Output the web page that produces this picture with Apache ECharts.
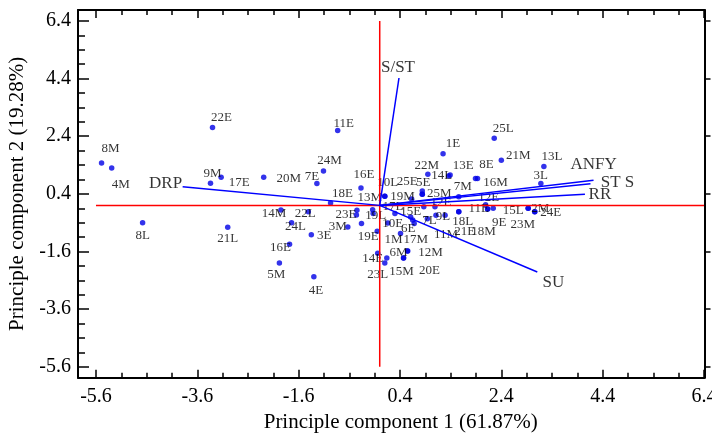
<!DOCTYPE html>
<html>
<head>
<meta charset="utf-8">
<script src="https://cdn.jsdelivr.net/npm/echarts@6/dist/echarts.min.js"></script>
<style>
  html, body { margin: 0; padding: 0; background: #fff; overflow: hidden; }
  #chart { width: 712px; height: 434px; }
</style>
</head>
<body>
<div id="chart"></div>
<script>
// PCA scores of the samples (empty name = dot without a visible label)
var sampleNames = ['8M','4M','22E','9M','17E','8L','21L','20M','11E','24M',
  '7E','16E','18E','13M','10L','19M','25E','5E','25M','22M',
  '1E','13E','14L','8E','16M','7M','21M','25L','13L','3L',
  '12E','11E','9E','15L','2M','24E','23M','18L','21E','18M',
  '11M','9L','7L','12E','','17L','10E','15E','6E','17M',
  '1M','19E','19L','','23E','','3M','','14M','22L',
  '24L','3E','16E','5M','4E','14E','','23L','6M','12M',
  '15M','20E'];
var pc1Scores = [-5.49,-5.29,-3.30,-3.34,-3.13,-4.68,-3.00,-2.29,-0.83,-1.11,
  -1.24,-0.37,-0.97,0.10,0.10,0.63,0.84,0.84,0.84,0.95,
  1.25,1.39,1.36,1.89,1.93,1.56,2.40,2.26,3.24,3.18,
  2.09,2.13,2.24,2.93,2.93,3.06,3.06,1.56,1.56,2.13,
  1.29,1.11,0.94,1.09,0.87,0.30,0.16,0.61,0.68,0.65,
  0.41,-0.05,-0.14,-0.13,-0.45,-0.46,-0.63,-0.36,-1.95,-1.41,
  -1.74,-1.35,-1.78,-1.98,-1.30,-0.04,0.14,0.10,0.55,0.55,
  0.47,0.47];
var pc2Scores = [1.47,1.30,2.70,0.77,0.98,-0.60,-0.76,0.98,2.60,1.19,
  0.76,0.60,0.08,0.32,0.32,0.22,0.50,0.39,0.39,1.08,
  1.79,1.05,1.02,0.93,0.93,0.30,1.57,2.33,1.35,0.76,
  0.02,-0.13,-0.10,-0.10,-0.10,-0.22,-0.22,-0.22,-0.22,-0.13,
  -0.34,-0.34,-0.46,-0.05,-0.05,-0.28,-0.61,-0.40,-0.63,-0.51,
  -0.98,-0.90,-0.15,-0.28,-0.17,-0.33,-0.75,-0.63,-0.16,-0.22,
  -0.60,-1.02,-1.35,-2.00,-2.48,-1.66,-1.83,-2.00,-1.58,-1.58,
  -1.83,-1.83];

// loadings of the variables
var varNames = ['S/ST','DRP','ANFY','ST S','RR','SU'];
var varPC1 = [0.38,-3.89,4.22,4.16,4.05,3.11];
var varPC2 = [4.42,0.65,0.87,0.75,0.39,-2.31];

var tickLabels = [-5.6,-3.6,-1.6,0.4,2.4,4.4,6.4];

// label placement (pixel nudges from the dot), layout only
var labelNudge = [[9,-14],[9,17],[9,-10],[2,-10],[18,5],[0,13],[0,11],[25,1],[6,-7],[6,-11],
  [-5,-7],[3,-14],[12,-9],[-15,1],[3,-14],[-9,-2],[-15,-9],[1,-12],[17,-1],[-1,-9],
  [10,-10],[13,-10],[-7,0],[11,-14],[18,4],[4,-10],[17,-5],[9,-10],[8,-10],[0,-8],
  [3,-7],[-9,-1],[6,14],[-15,2],[12,0],[16,1],[-12,13],[4,10],[6,20],[-4,22],
  [1,19],[7,1],[2,2],[6,-4],null,[-2,-7],[5,1],[0,-5],[-6,5],[3,20],
  [-7,6],[-9,5],[3,6],null,[-11,4],null,[-10,0],null,[-7,4],[-3,2],
  [4,4],[13,1],[-9,3],[-3,12],[2,14],[-5,5],null,[-7,12],[-9,2],[23,2],
  [-2,13],[26,12]];
var varLabelNudge = [[-1,-10],[-17,-3],[0,-16],[27,-1],[15,0],[16,11]];

var serif = 'Liberation Serif';
var minorTicks = [];
for (var t = tickLabels[0]; t <= tickLabels[tickLabels.length - 1] + 1e-9; t += 0.5) {
  minorTicks.push(Math.round(t * 10) / 10);
}

var chart = echarts.init(document.getElementById('chart'));

function xAx(pos, major, withLine, withLabel) {
  var a = {
    type: 'value', position: pos, min: -5.955, max: 6.41,
    splitLine: {show: false},
    axisLine: {show: withLine, onZero: false, lineStyle: {color: '#000', width: 2}},
    axisTick: {show: true, inside: true, length: major ? 8 : 5,
      customValues: major ? tickLabels : minorTicks, lineStyle: {color: '#000', width: 1.5}},
    axisLabel: {show: false}
  };
  if (withLabel) {
    a.axisLabel = {show: true, customValues: tickLabels, margin: 9,
      fontFamily: serif, fontSize: 20, color: '#000'};
    a.name = 'Principle component 1 (61.87%)';
    a.nameLocation = 'middle';
    a.nameGap = 30;
    a.nameTextStyle = {fontFamily: serif, fontSize: 21, color: '#000', padding: [0, 0, 0, 19]};
  }
  return a;
}
function yAx(pos, major, withLine, withLabel, inside, len) {
  var a = {
    type: 'value', position: pos, min: -5.98, max: 6.78,
    splitLine: {show: false},
    axisLine: {show: withLine, onZero: false, lineStyle: {color: '#000', width: 2}},
    axisTick: {show: true, inside: inside, length: len,
      customValues: major ? tickLabels : minorTicks, lineStyle: {color: '#000', width: 1.5}},
    axisLabel: {show: false}
  };
  if (withLabel) {
    a.axisLabel = {show: true, customValues: tickLabels, margin: 7,
      fontFamily: serif, fontSize: 20, color: '#000'};
    a.name = 'Principle component 2 (19.28%)';
    a.nameLocation = 'middle';
    a.nameGap = 40;
    a.nameTextStyle = {fontFamily: serif, fontSize: 21, color: '#000'};
  }
  return a;
}

var x0 = tickLabels[0], x1 = tickLabels[tickLabels.length - 1];
var series = [
  {type: 'line', data: [[x0, 0], [x1, 0]], symbol: 'none', silent: true,
    lineStyle: {color: '#ff0000', width: 1.5}},
  {type: 'line', data: [[0, x0], [0, x1]], symbol: 'none', silent: true,
    lineStyle: {color: '#ff0000', width: 1.5}}
];
varNames.forEach(function (n, i) {
  series.push({type: 'line', data: [[0, 0], [varPC1[i], varPC2[i]]], symbol: 'none',
    silent: true, lineStyle: {color: '#0000ff', width: 1.5}});
});
series.push({
  type: 'scatter', symbolSize: 0, silent: true,
  data: varNames.map(function (n, i) {
    return {name: n, value: [varPC1[i], varPC2[i]], label: {offset: varLabelNudge[i]}};
  }),
  label: {show: true, position: 'inside', formatter: '{b}', fontFamily: serif,
    fontSize: 17, color: '#000'}
});
series.push({
  type: 'scatter', symbolSize: 5.5, silent: true,
  itemStyle: {color: '#0000e6'},
  data: sampleNames.map(function (n, i) {
    var nudge = labelNudge[i];
    return {name: n, value: [pc1Scores[i], pc2Scores[i]],
      label: nudge ? {show: true, offset: nudge} : {show: false}};
  }),
  label: {show: true, position: 'inside', formatter: '{b}', fontFamily: serif,
    fontSize: 13, color: '#000'}
});

chart.setOption({
  animation: false,
  backgroundColor: '#fff',
  grid: {left: 78, right: 7.5, top: 10, bottom: 56.3, containLabel: false,
    outerBoundsMode: 'none'},
  xAxis: [xAx('bottom', true, true, true), xAx('bottom', false, false, false),
    xAx('top', true, true, false), xAx('top', false, false, false)],
  yAxis: [yAx('left', true, true, true, true, 11), yAx('left', false, false, false, true, 7),
    yAx('right', true, true, false, false, 6)],
  series: series
});
</script>
</body>
</html>
